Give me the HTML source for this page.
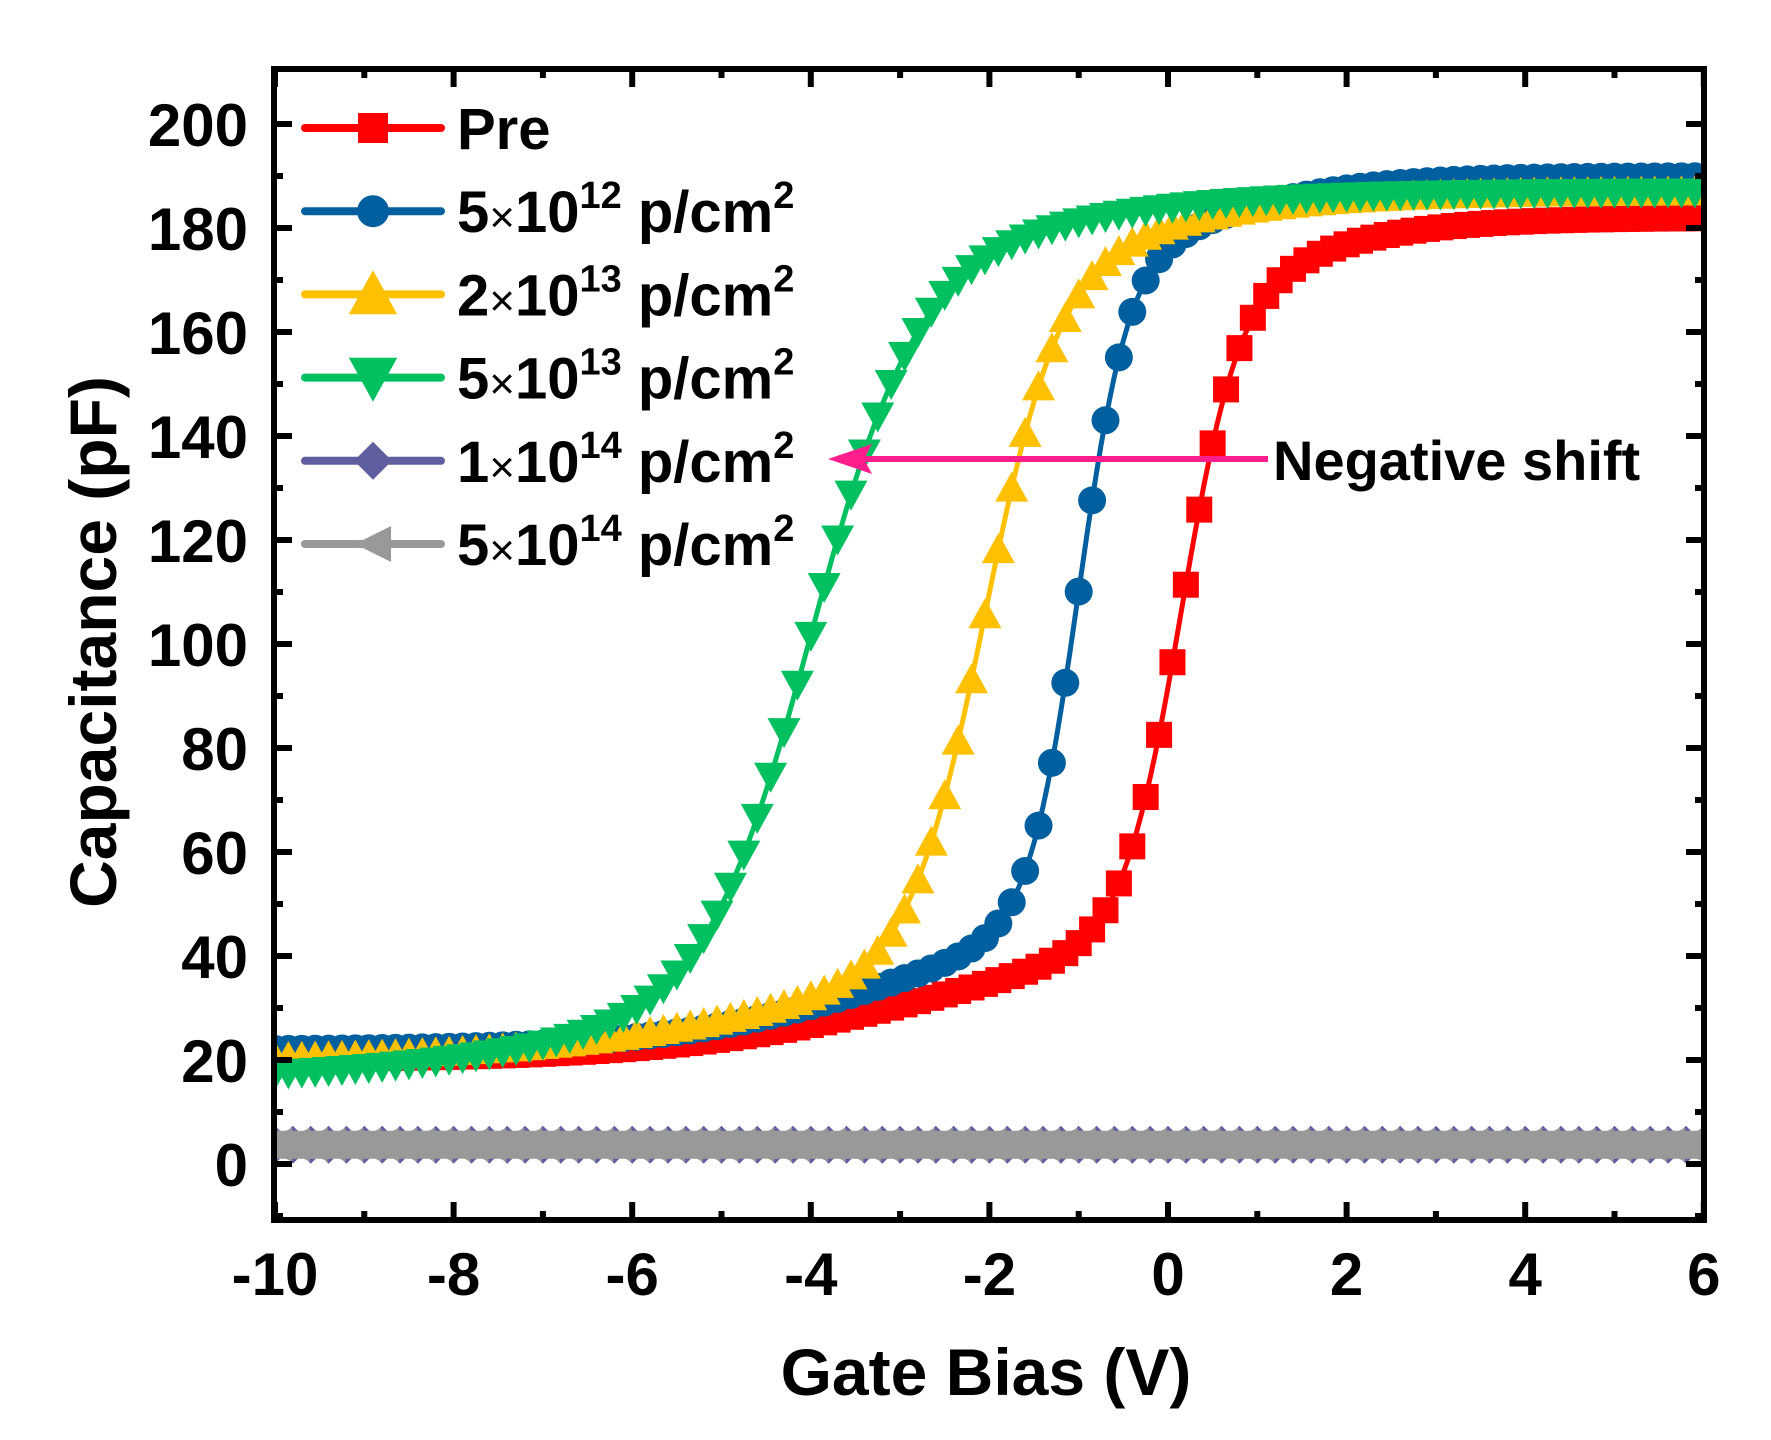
<!DOCTYPE html>
<html><head><meta charset="utf-8"><style>
html,body{margin:0;padding:0;background:#fff;}
svg{display:block;}
text{font-family:"Liberation Sans",Arial,sans-serif;font-weight:bold;fill:#000;}
</style></head><body>
<svg id="s" width="1771" height="1440" viewBox="0 0 1771 1440" xmlns="http://www.w3.org/2000/svg">
<defs><clipPath id="cp"><rect x="274" y="69" width="1430" height="1151"/></clipPath></defs>
<g id="data" clip-path="url(#cp)"></g>
<g id="axes"></g>
</svg>
<script>
const NS="http://www.w3.org/2000/svg";
const X=v=>275+(v+10)*89.3, Y=c=>1164-c*5.2;
const data=document.getElementById('data'), axes=document.getElementById('axes');
function el(p,tag,attrs,txt){const e=document.createElementNS(NS,tag);for(const k in attrs)e.setAttribute(k,attrs[k]);if(txt!==undefined)e.textContent=txt;p.appendChild(e);return e;}
function sig(x){return 1/(1+Math.exp(-x));}
function mk(p,type,x,y,s,col){
 if(type==='sq') el(p,'rect',{x:x-s/2,y:y-s/2,width:s,height:s,fill:col});
 else if(type==='ci') el(p,'circle',{cx:x,cy:y,r:s/2,fill:col});
 else if(type==='tu') el(p,'polygon',{points:`${x},${y-s*0.55} ${x-s*0.55},${y+s*0.45} ${x+s*0.55},${y+s*0.45}`,fill:col});
 else if(type==='td') el(p,'polygon',{points:`${x},${y+s*0.55} ${x-s*0.55},${y-s*0.45} ${x+s*0.55},${y-s*0.45}`,fill:col});
 else if(type==='di') el(p,'polygon',{points:`${x},${y-s/2} ${x+s/2},${y} ${x},${y+s/2} ${x-s/2},${y}`,fill:col});
 else if(type==='tl') el(p,'polygon',{points:`${x-s/2},${y} ${x+s/2},${y-s/2} ${x+s/2},${y+s/2}`,fill:col});
}
const series=[
 {col:'#ff0000',t:'sq',s:26,p:[20,25,-2.5,1.5,127,0.15,0.33,10,1.5,0.8]},
 {col:'#005f9e',t:'ci',s:28,p:[22,26,-3,1.3,128,-1.0,0.28,14,0.3,0.9]},
 {col:'#ffc000',t:'tu',s:30,p:[20,17,-4.5,1.5,135,-2.05,0.42,15,-0.8,1.2]},
 {col:'#00c060',t:'td',s:30,p:[16,11,-7,1.5,145,-4.0,0.6,15,-2.2,1.5]},
];
const bandG=el(data,'g',{});
for(let v=-10;v<=6.01;v+=0.2){mk(bandG,'di',X(v),Y(3.7),38,'#5f5f9f');}
for(let v=-10;v<=6.01;v+=0.2){mk(bandG,'tl',X(v),Y(3.7),34,'#999999');}
el(bandG,'rect',{x:274,y:Y(3.7)-14,width:1430,height:28,fill:'#999'});
for(const S of series){
 const [b,a1,c1,w1,a2,c2,w2,a3,c3,w3]=S.p;
 const f=v=>b+a1*sig((v-c1)/w1)+a2*sig((v-c2)/w2)+a3*sig((v-c3)/w3);
 let d='';for(let v=-10;v<=6.001;v+=0.05)d+=(d?'L':'M')+X(v).toFixed(1)+','+Y(f(v)).toFixed(1);
 const g=el(data,'g',{});
 el(g,'path',{d,stroke:S.col,'stroke-width':5,fill:'none'});
 for(let v=-10;v<=6.01;v+=0.15)mk(g,S.t,X(v),Y(f(v)),S.s,S.col);
}
el(axes,'rect',{x:274,y:69,width:1430,height:1151,fill:'none',stroke:'#000','stroke-width':6});
for(let v=-10;v<=6;v++){const x=X(v),maj=v%2===0,L=maj?18:9;
 el(axes,'line',{x1:x,y1:1220,x2:x,y2:1220-L,stroke:'#000','stroke-width':6});
 el(axes,'line',{x1:x,y1:69,x2:x,y2:69+L,stroke:'#000','stroke-width':6});
 if(maj)el(axes,'text',{x:x,y:1295,'font-size':60,'text-anchor':'middle'},String(v));}
for(let c=-10;c<=200;c+=10){const y=Y(c),maj=c%20===0,L=maj?18:9;
 el(axes,'line',{x1:274,y1:y,x2:274+L,y2:y,stroke:'#000','stroke-width':6});
 el(axes,'line',{x1:1704,y1:y,x2:1704-L,y2:y,stroke:'#000','stroke-width':6});
 if(maj&&c>=0)el(axes,'text',{x:248,y:y+22,'font-size':60,'text-anchor':'end'},String(c));}
el(axes,'text',{x:986,y:1395,'font-size':66,'text-anchor':'middle'},'Gate Bias (V)');
el(axes,'text',{x:0,y:0,'font-size':66,'text-anchor':'middle',transform:'translate(116,642) rotate(-90)'},'Capacitance (pF)');
const leg=[['#ff0000','sq',30,'Pre',null],['#005f9e','ci',32,'5×10','12'],['#ffc000','tu',44,'2×10','13'],['#00c060','td',44,'5×10','13'],['#5f5f9f','di',38,'1×10','14'],['#999999','tl',36,'5×10','14']];
leg.forEach((L,i)=>{const y=128+i*83.2;
 el(axes,'line',{x1:305,y1:y,x2:441,y2:y,stroke:L[0],'stroke-width':8,'stroke-linecap':'round'});
 mk(axes,L[1],373,y,L[2],L[0]);
 const t=el(axes,'text',{x:457,y:y+21,'font-size':58});
 if(!L[4])t.textContent=L[3];
 else{const m=L[3].split('×');el(t,'tspan',{},m[0]);el(t,'tspan',{'font-size':44,'font-weight':'normal'},'×');el(t,'tspan',{},m[1]);
  el(t,'tspan',{dy:-24,'font-size':38},L[4]);el(t,'tspan',{dy:24},' p/cm');el(t,'tspan',{dy:-24,'font-size':38},'2');}
});
el(axes,'line',{x1:860,y1:459,x2:1268,y2:459,stroke:'#ff1e8c','stroke-width':6});
el(axes,'polygon',{points:'828,459 872,444 864,459 872,474',fill:'#ff1e8c'});
el(axes,'text',{x:1273,y:480,'font-size':56},'Negative shift');
</script>
</body></html>
